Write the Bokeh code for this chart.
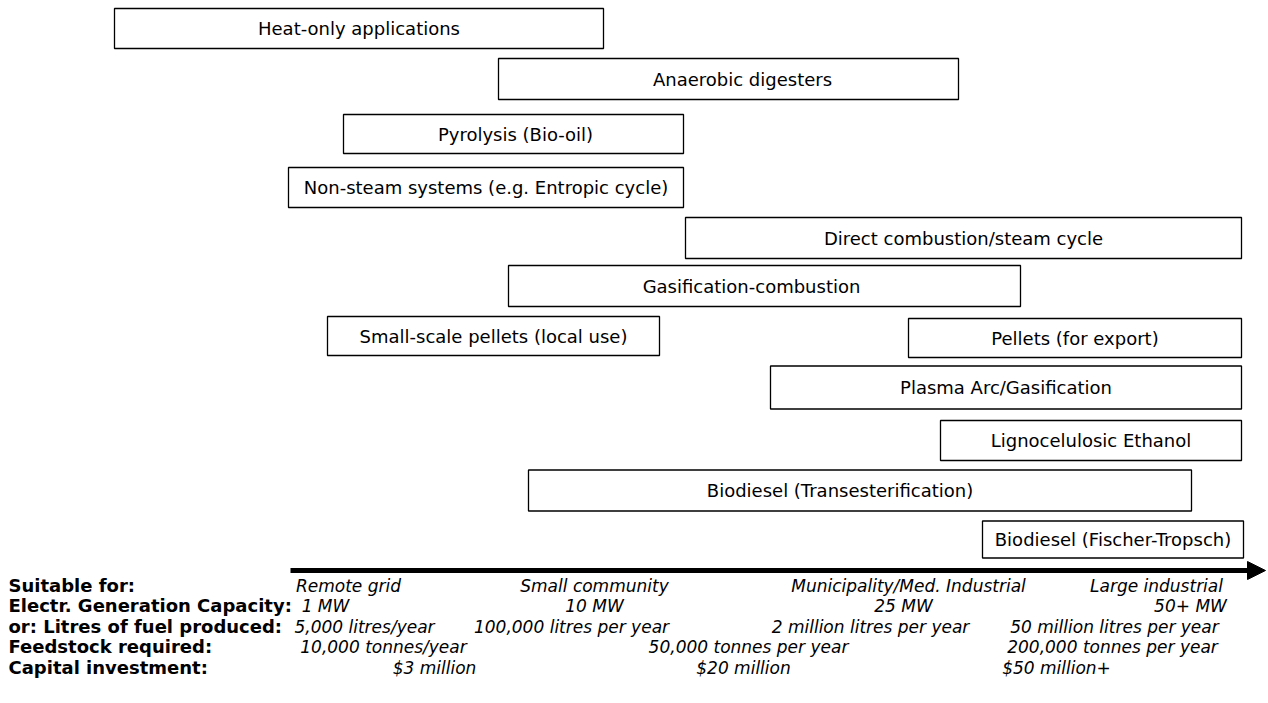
from bokeh.plotting import figure
from bokeh.models import Range1d, Arrow, NormalHead, ColumnDataSource
from bokeh.core.properties import value
from bokeh.embed import file_html
from bokeh.resources import INLINE

# ---- data -------------------------------------------------------------
technologies = [
    "Heat-only applications",
    "Anaerobic digesters",
    "Pyrolysis (Bio-oil)",
    "Non-steam systems (e.g. Entropic cycle)",
    "Direct combustion/steam cycle",
    "Gasification-combustion",
    "Small-scale pellets (local use)",
    "Pellets (for export)",
    "Plasma Arc/Gasification",
    "Lignocelulosic Ethanol",
    "Biodiesel (Transesterification)",
    "Biodiesel (Fischer-Tropsch)",
]
# start / end of each technology's range along the scale arrow
range_start = [114, 498, 343, 288, 685, 508, 327, 908, 770, 940, 528, 982]
range_end = [603, 958, 683, 683, 1241, 1020, 659, 1241, 1241, 1241, 1191, 1243]

row_labels = [
    "Suitable for:",
    "Electr. Generation Capacity:",
    "or: Litres of fuel produced:",
    "Feedstock required:",
    "Capital investment:",
]
suitable_for = ["Remote grid", "Small community", "Municipality/Med. Industrial", "Large industrial"]
capacity = ["1 MW", "10 MW", "25 MW", "50+ MW"]
fuel_litres = ["5,000 litres/year", "100,000 litres per year", "2 million litres per year",
               "50 million litres per year"]
feedstock = ["10,000 tonnes/year", "50,000 tonnes per year", "200,000 tonnes per year"]
capital = ["$3 million", "$20 million", "$50 million+"]

# ---- layout (positions / styles) ---------------------------------------
lane_y = [28, 78.5, 133.5, 187, 237.5, 285.5, 335.5, 337.5, 387, 440, 490, 539]
lane_h = [40, 41, 39, 40, 41, 41, 39, 39, 43, 40, 41, 37]
label_shift = [0, 14, 2, 0, 0, -13, 0, 0, 0, 0, -20, 0]

suitable_cx = [348, 594, 908, 1156]
capacity_cx = [325, 594, 903, 1190]
fuel_cx = [364, 571, 870, 1114]
feedstock_cx = [383, 748, 1112]
capital_cx = [434, 743, 1056]
row_y = [585, 605, 626, 646, 667]

FONT = "DejaVu Sans"

W, H = 1268, 703
p = figure(width=W, height=H, x_range=Range1d(0, W), y_range=Range1d(H, 0),
           output_backend="svg", toolbar_location=None, min_border=0)
p.axis.visible = False
p.grid.visible = False
p.outline_line_color = None

boxes = ColumnDataSource(dict(
    left=range_start, right=range_end,
    top=[y - h / 2 for y, h in zip(lane_y, lane_h)],
    bottom=[y + h / 2 for y, h in zip(lane_y, lane_h)],
    xc=[(a + b) / 2 + s for a, b, s in zip(range_start, range_end, label_shift)],
    yc=lane_y, name=technologies,
))
p.quad(left="left", right="right", top="top", bottom="bottom", source=boxes,
       fill_color="white", line_color="black", line_width=1.3)
p.text(x="xc", y="yc", text="name", source=boxes, text_align="center",
       text_baseline="middle", text_font=value(FONT), text_font_size="18px",
       text_color="black")

# scale arrow
p.add_layout(Arrow(end=NormalHead(size=18, fill_color="black", line_color="black",
                                  line_width=1),
                   x_start=290, y_start=570, x_end=1265, y_end=570,
                   line_width=5, line_color="black"))

# row headers
p.text(x=[8] * len(row_labels), y=row_y, text=row_labels, text_align="left",
       text_baseline="middle", text_font=value(FONT), text_font_size="18px",
       text_font_style="bold", text_color="black")

for vals, xs, y in [(suitable_for, suitable_cx, row_y[0]), (capacity, capacity_cx, row_y[1]),
                    (fuel_litres, fuel_cx, row_y[2]), (feedstock, feedstock_cx, row_y[3]),
                    (capital, capital_cx, row_y[4])]:
    p.text(x=xs, y=[y] * len(vals), text=vals, text_align="center", text_baseline="middle",
           text_font=value(FONT), text_font_size="17px", text_font_style="italic",
           text_color="black")

open("out.html", "w").write(file_html(p, INLINE))
